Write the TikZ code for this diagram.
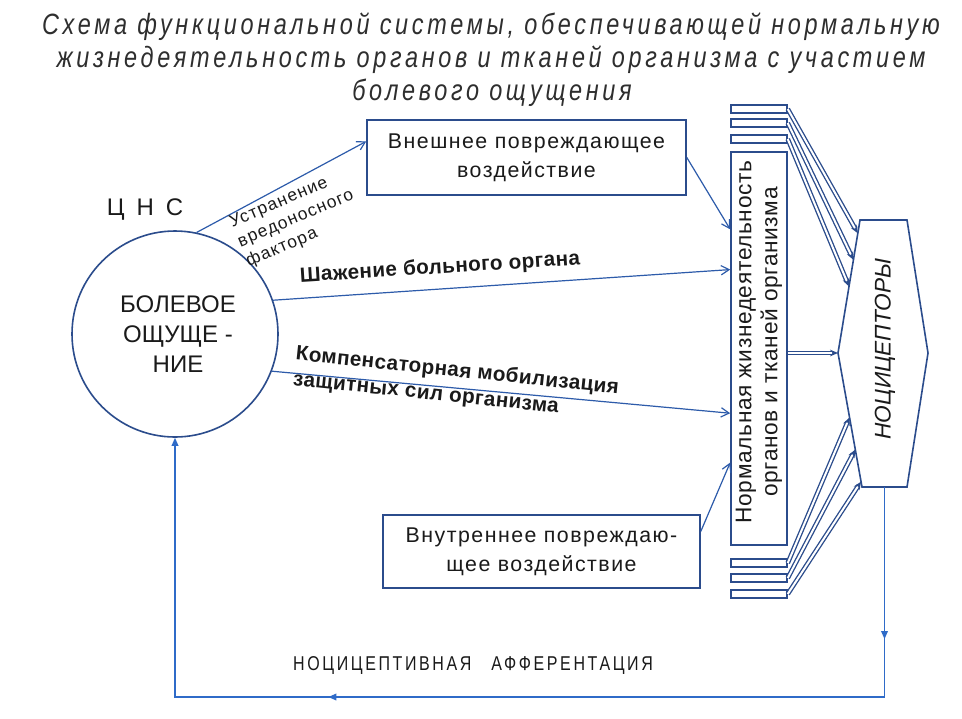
\documentclass[tikz,border=0pt]{standalone}
\usepackage{fontspec}
\setmainfont{Liberation Sans}
\newfontfamily\titlefont[FakeStretch=0.8,LetterSpace=12.5]{Liberation Sans}
\newfontfamily\narrowfont[FakeStretch=0.8,LetterSpace=13]{Liberation Sans}
\newfontfamily\spacedfont[LetterSpace=7]{Liberation Sans}
\newfontfamily\vfont[LetterSpace=3]{Liberation Sans}
\newfontfamily\boldlbl[LetterSpace=2]{Liberation Sans}
\usetikzlibrary{arrows.meta,calc,decorations.markings}
\definecolor{boxblue}{HTML}{2B4C8C}
\definecolor{arrblue}{HTML}{2D5BAA}
\definecolor{loopblue}{HTML}{2F6BC8}
\definecolor{txt}{HTML}{1A1A1A}
\definecolor{ttl}{HTML}{2E2E2E}
\begin{document}
\begin{tikzpicture}[x=0.75pt,y=-0.75pt,
  box/.style={draw=boxblue,line width=1.2pt,fill=white,inner sep=0pt,text=txt},
  arr/.style={draw=arrblue,line width=0.9pt,-{Straight Barb[length=6pt,width=7pt]}},
  dbl/.style={draw=boxblue,double=white,double distance=1.5pt,line width=1pt,-{Stealth[length=6pt,width=5pt]}},
  stripe/.style={draw=boxblue,line width=1.1pt,fill=white,minimum width=42pt,minimum height=6pt,inner sep=0pt},
  fbloop/.style={draw=loopblue,line width=1pt},
  lbl/.style={text=txt,inner sep=0pt},
  ttlstyle/.style={lbl,text=ttl,font=\titlefont\itshape\fontsize{22}{25}\selectfont}
]
\useasboundingbox (0,0) rectangle (962,718);
\fill[white] (0,0) rectangle (962,718);

% title
\node[ttlstyle] (t1) at (491,27) {Схема функциональной системы, обеспечивающей нормальную};
\node[ttlstyle] (t2) at (491,60) {жизнедеятельность органов и тканей организма с участием};
\node[ttlstyle] (t3) at (492,93) {болевого ощущения};

% CNS circle
\node[circle,draw=boxblue,line width=1.2pt,minimum size=154.5pt,inner sep=0pt] (cns) at (175,334) {};
\node[lbl,align=center,font=\fontsize{18}{22.5}\selectfont] (cnstext) at (178,334) {БОЛЕВОЕ\\ОЩУЩЕ -\\НИЕ};
\node[lbl,font=\fontsize{18}{22}\selectfont] (cnslbl) at (145,210) {Ц\enspace Н\enspace С};

% boxes
\node[box,minimum width=239.25pt,minimum height=56.25pt,align=center,font=\spacedfont\fontsize{16}{21.5}\selectfont] (ext) at (526.5,157.5) {Внешнее повреждающее\\воздействие};
\node[box,minimum width=237.75pt,minimum height=54.75pt,align=center,font=\spacedfont\fontsize{16}{21.5}\selectfont] (int) at (541.5,551.5) {Внутреннее повреждаю-\\щее воздействие};
\node[box,minimum width=42pt,minimum height=294.75pt] (vb) at (759,348.5) {};
\node[lbl,rotate=90,align=center,font=\vfont\fontsize{17}{19.5}\selectfont] (vbtext) at (759,342) {Нормальная жизнедеятельность\\органов и тканей организма};

% stripes
\node[stripe] (s1) at (759,109) {};
\node[stripe] (s2) at (759,123) {};
\node[stripe] (s3) at (759,139) {};
\node[stripe] (s4) at (759,563) {};
\node[stripe] (s5) at (759,578) {};
\node[stripe] (s6) at (759,594) {};

% nociceptors
\coordinate (nA) at (860,220);
\coordinate (nB) at (907,220);
\coordinate (nC) at (928,353);
\coordinate (nD) at (907,487);
\coordinate (nE) at (862,487);
\coordinate (nF) at (838,353);
\draw[boxblue,line width=1.2pt,fill=white] (nA) -- (nB) -- (nC) -- (nD) -- (nE) -- (nF) -- cycle;
\node[lbl,rotate=90,font=\itshape\fontsize{17}{20}\selectfont] (noc) at (885,349) {НОЦИЦЕПТОРЫ};

% double connectors
\draw[dbl] (s1.east) -- ($(nA)!0.10!(nF)$);
\draw[dbl] (s2.east) -- ($(nA)!0.30!(nF)$);
\draw[dbl] (s3.east) -- ($(nA)!0.50!(nF)$);
\draw[dbl] (s4.east) -- ($(nF)!0.48!(nE)$);
\draw[dbl] (s5.east) -- ($(nF)!0.72!(nE)$);
\draw[dbl] (s6.east) -- ($(nF)!0.96!(nE)$);
\draw[dbl] (vb.east |- nF) -- (nF);

% arrows
\draw[arr] (cns.78) -- ($(ext.north west)!0.29!(ext.south west)$);
\draw[arr] (cns.19) -- ($(vb.north west)!0.30!(vb.south west)$);
\draw[arr] (cns.-21) -- ($(vb.north west)!0.664!(vb.south west)$);
\draw[arr] (ext.east) -- ($(vb.north west)!0.198!(vb.south west)$);
\draw[arr] ($(int.north east)!0.23!(int.south east)$) -- ($(vb.north west)!0.789!(vb.south west)$);

% labels
\node[lbl,rotate=23,align=left,font=\spacedfont\fontsize{13}{16}\selectfont] (l1) at (296,219) {Устранение\\вредоносного\\фактора};
\node[lbl,rotate=3.6,font=\boldlbl\bfseries\fontsize{15.5}{18}\selectfont] (l2) at (440,268) {Шажение больного органа};
\node[lbl,rotate=-6,align=left,font=\boldlbl\bfseries\fontsize{15.5}{19}\selectfont] (l3) at (456,384) {Компенсаторная мобилизация\\защитных сил организма};

% feedback loop
\draw[fbloop,-{Triangle[length=6pt,width=5pt]},
  postaction={decorate,decoration={markings,
    mark=at position 0.129 with {\arrow{Triangle[length=6pt,width=5pt]}},
    mark=at position 0.65 with {\arrow{Triangle[length=6pt,width=5pt]}}}}]
  ($(nD)!0.5!(nE)$) -- ++(0,210) -| (cns.south);
\node[lbl,font=\narrowfont\fontsize{15}{17}\selectfont] (aff) at (473,665) {НОЦИЦЕПТИВНАЯ\quad АФФЕРЕНТАЦИЯ};
\end{tikzpicture}
\end{document}
